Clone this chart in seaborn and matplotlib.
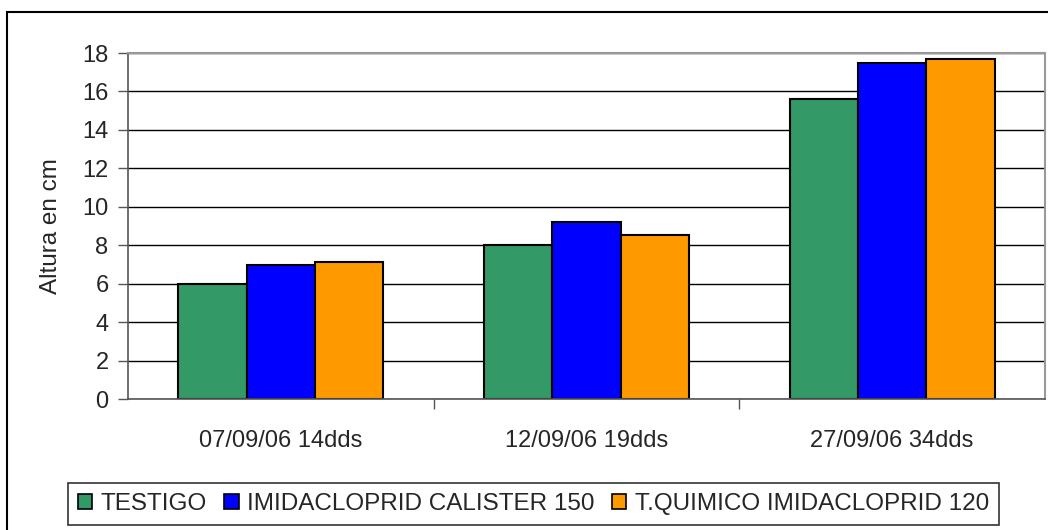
import numpy as np
import pandas as pd
import matplotlib
matplotlib.use("Agg")
import matplotlib.pyplot as plt
import seaborn as sns
from matplotlib.patches import Rectangle, Patch

# datos del gráfico
fechas = ['07/09/06 14dds', '12/09/06 19dds', '27/09/06 34dds']
tratamientos = ['TESTIGO', 'IMIDACLOPRID CALISTER 150', 'T.QUIMICO IMIDACLOPRID 120']
testigo = [6.0, 8.0, 15.6]
calister = [6.95, 9.23, 17.48]
quimico = [7.15, 8.52, 17.67]
colores = ['#339966', '#0000FF', '#FF9900']
y_ticks = list(range(0, 19, 2))

df = pd.DataFrame({
    'fecha': fechas * 3,
    'tratamiento': [t for t in tratamientos for _ in fechas],
    'altura': testigo + calister + quimico,
})

sns.set_theme(style='white')
plt.rcParams['font.family'] = ['Liberation Sans', 'DejaVu Sans']

fig = plt.figure(figsize=(10.48, 5.30), dpi=100)
ax = fig.add_axes([128 / 1048, 1 - 399 / 530, 917 / 1048, 346 / 530])

sns.barplot(data=df, x='fecha', y='altura', hue='tratamiento',
            hue_order=tratamientos, palette=colores, width=0.67,
            edgecolor='black', linewidth=1.5, saturation=1, ax=ax,
            legend=False)

ax.set_ylim(0, 18)
ax.set_xlim(-0.5, 2.5)
ax.set_yticks(y_ticks)
ax.yaxis.grid(True, color='black', linewidth=1)
ax.set_axisbelow(True)
ax.set_xlabel('')
ax.set_ylabel('Altura en cm', fontsize=17.5)
ax.yaxis.set_label_coords(-0.072, 0.5)

for s in ['top', 'right']:
    ax.spines[s].set_color('#999999')
    ax.spines[s].set_linewidth(1.5)
for s in ['left', 'bottom']:
    ax.spines[s].set_color('#555555')
    ax.spines[s].set_linewidth(1.2)

ax.tick_params(axis='y', direction='out', length=7, width=1, color='#555555',
               pad=7, labelsize=17, left=True)
ax.tick_params(axis='x', which='major', length=0, pad=22, labelsize=17)
ax.set_xticks([0.5, 1.5], minor=True)
ax.tick_params(axis='x', which='minor', direction='out', length=7, width=1,
               color='#555555', bottom=True)

# marco exterior
fig.patches.append(Rectangle((7 / 1048, -0.05), 1.2, 0.05 + (530 - 12) / 530,
                             transform=fig.transFigure, fill=False,
                             edgecolor='black', linewidth=1.5))

handles = [Patch(facecolor=c, edgecolor='black', linewidth=1.2) for c in colores]
leg = fig.legend(handles, tratamientos, loc='center', ncol=3,
                 bbox_to_anchor=(533.5 / 1048, 1 - 504 / 530), fontsize=17.5,
                 frameon=True, fancybox=False, edgecolor='black',
                 handlelength=0.6, handleheight=0.6, handletextpad=0.35,
                 columnspacing=0.7, borderpad=0.4, borderaxespad=0)
leg.get_frame().set_linewidth(1.2)

fig.savefig('out.png', dpi=100)
